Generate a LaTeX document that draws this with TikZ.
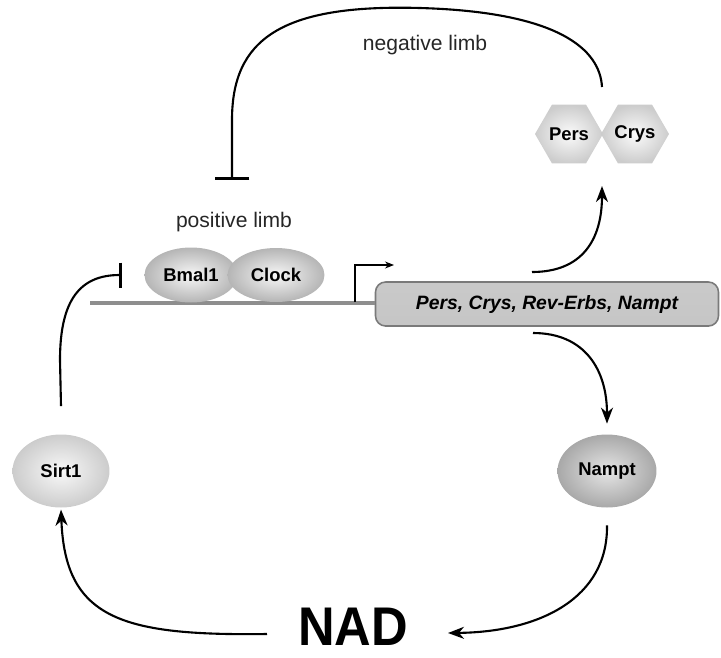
\documentclass[tikz,border=0pt]{standalone}
\usepackage{fontspec}
\setmainfont{Liberation Sans}
\newfontfamily\nadfont[FakeStretch=0.93]{Liberation Sans}
\usepackage{tikz}
\usetikzlibrary{arrows.meta,positioning,shapes.geometric,calc}
\definecolor{genegray}{HTML}{8E8E8E}
\definecolor{boxedge}{HTML}{7A7A7A}

\begin{document}
\begin{tikzpicture}[
  x=0.02cm, y=-0.02cm,
  protein/.style={ellipse, inner sep=0pt, shading=radial, inner color=gray!6,
    outer color=gray!58, font=\fontsize{10.5}{12}\selectfont\bfseries},
  hexa/.style={regular polygon, regular polygon sides=6, minimum size=1.36cm,
    inner sep=0pt, shading=radial, inner color=gray!3, outer color=gray!40,
    font=\fontsize{10.5}{12}\selectfont\bfseries},
  limb/.style={font=\fontsize{12}{14}\selectfont, text=black!85},
  flow/.style={-{Stealth[length=3.2mm, width=2.4mm, inset=1mm]}, line width=1.2pt},
  block/.style={-{Bar[width=#1, line width=1.8pt]}, line width=1.2pt},
  block/.default=7mm
]
\useasboundingbox (0,0) rectangle (721,657);

% promoter and gene
\coordinate (linestart) at (90,303);
\node[draw=boxedge, line width=0.9pt, rounded corners=0.2cm, top color=gray!42,
  middle color=gray!16, bottom color=gray!45, minimum width=6.86cm,
  minimum height=0.88cm, inner sep=0pt,
  font=\fontsize{11}{13}\selectfont\bfseries\itshape]
  (genes) at (547,304) {Pers, Crys, Rev-Erbs, Nampt};
\draw[genegray, line width=2.8pt] (linestart) -- (linestart -| genes.west);
\coordinate (tss) at (355,302);
\coordinate (tssend) at (394,265);
\draw[line width=0.6pt, -{Stealth[length=1.8mm, width=1.4mm]}] (tss) |- (tssend);

% positive limb
\node[protein, minimum width=1.86cm, minimum height=1.1cm] (bmal) at (191,275) {Bmal1};
\node[protein, minimum width=1.94cm, minimum height=1.08cm] (clock) at (276,275) {Clock};
\node[limb] (poslimb) at (234,222) {positive limb};

% negative limb
\node[hexa] (pers) at (569,134) {Pers};
\node[hexa] (crys) at (635,134) {Crys};
\node[limb] (neglimb) at (425,45) {negative limb};
\coordinate (negstart) at (602,87);
\coordinate (negbar) at (232,180);
\draw[block] (negstart) .. controls (600,50) and (560,12) .. (420,8)
  .. controls (280,4) and (232,40) .. (232,120) -- (negbar);

% outputs of the gene
\coordinate (upstart) at (532,272);
\coordinate (uptip) at (602,186);
\draw[flow] (upstart) .. controls (582,272) and (602,240) .. (uptip);
\coordinate (downstart) at (533,333);
\node[protein, inner color=gray!20, outer color=gray!68,
  minimum width=1.98cm, minimum height=1.46cm] (nampt) at (607,471) {Nampt};
\draw[flow] (downstart) .. controls (585,333) and (607,370) .. ([yshift=6pt]nampt.north);

% NAD loop
\node[protein, inner color=gray!5, outer color=gray!40,
  minimum width=1.94cm, minimum height=1.46cm] (sirt) at (61,471) {Sirt1};
\node[anchor=base, inner sep=0pt, font=\nadfont\fontsize{31}{32}\selectfont\bfseries]
  (nad) at (353,645) {NAD};
\coordinate (nadright) at (448,633);
\coordinate (nadleft) at (267,634);
\draw[flow] ([yshift=-10pt]nampt.south) .. controls (608,598) and (540,632) .. (nadright);
\draw[flow] (nadleft) .. controls (120,636) and (65,618) .. ([yshift=-1pt]sirt.south);
\coordinate (sirtbar) at (122,275);
\draw[block=5mm] ([yshift=16pt]sirt.north) -- (60,360) .. controls (60,300) and (80,275) .. (sirtbar);
\end{tikzpicture}
\end{document}
